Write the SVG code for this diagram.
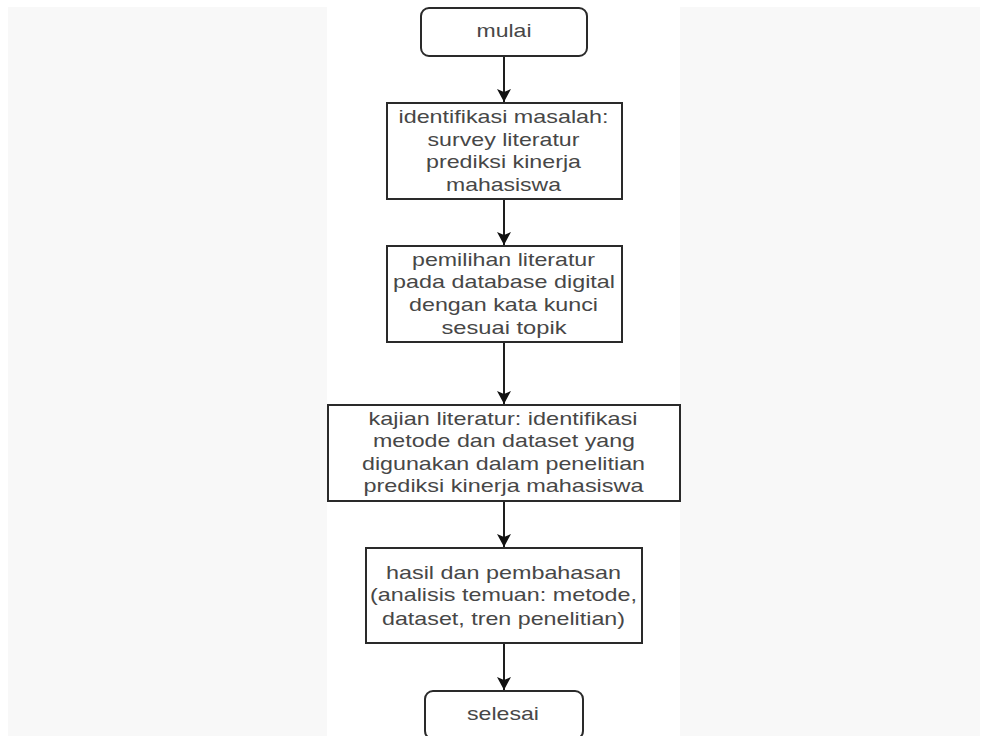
<svg xmlns="http://www.w3.org/2000/svg" width="987" height="736" viewBox="0 0 987 736">
<style>
.box{fill:#ffffff;stroke:#2a2a2a;stroke-width:2}
.t{font-family:"Liberation Sans",Arial,sans-serif;font-size:19px;fill:#474747;text-anchor:middle}
.edge{stroke:#1e1e1e;stroke-width:2;fill:none}
</style>
<defs>
<marker id="arr" markerUnits="userSpaceOnUse" markerWidth="14" markerHeight="14" viewBox="0 0 14 14" refX="13" refY="7" orient="auto">
<path d="M0,0 L13,7 L0,14 L3,7 Z" fill="#111111"/>
</marker>
</defs>
<rect x="0" y="0" width="987" height="736" fill="#ffffff"/>
<rect x="8" y="7" width="319" height="729" fill="#f8f8f8"/>
<rect x="680" y="7" width="300" height="729" fill="#f8f8f8"/>

<g id="connectors">
<line class="edge" x1="504" y1="56" x2="504" y2="102" marker-end="url(#arr)"/>
<line class="edge" x1="504" y1="199" x2="504" y2="245" marker-end="url(#arr)"/>
<line class="edge" x1="504" y1="342" x2="504" y2="404" marker-end="url(#arr)"/>
<line class="edge" x1="504" y1="501" x2="504" y2="547" marker-end="url(#arr)"/>
<line class="edge" x1="504" y1="643" x2="504" y2="690" marker-end="url(#arr)"/>
</g>

<g id="mulai">
<rect class="box" x="421" y="8" width="166" height="48" rx="8"/>
<text class="t" x="504" y="37" textLength="55" lengthAdjust="spacingAndGlyphs">mulai</text>
</g>

<g id="identifikasi">
<rect class="box" x="387" y="103" width="235" height="96"/>
<text class="t" x="503.5" y="123" textLength="210" lengthAdjust="spacingAndGlyphs">identifikasi masalah:</text>
<text class="t" x="503.5" y="146" textLength="152" lengthAdjust="spacingAndGlyphs">survey literatur</text>
<text class="t" x="503.5" y="168" textLength="155" lengthAdjust="spacingAndGlyphs">prediksi kinerja</text>
<text class="t" x="503.5" y="191" textLength="115" lengthAdjust="spacingAndGlyphs">mahasiswa</text>
</g>

<g id="pemilihan">
<rect class="box" x="387" y="246" width="235" height="96"/>
<text class="t" x="503.5" y="266" textLength="183" lengthAdjust="spacingAndGlyphs">pemilihan literatur</text>
<text class="t" x="504" y="288" textLength="222" lengthAdjust="spacingAndGlyphs">pada database digital</text>
<text class="t" x="503.5" y="311" textLength="189" lengthAdjust="spacingAndGlyphs">dengan kata kunci</text>
<text class="t" x="504" y="334" textLength="125" lengthAdjust="spacingAndGlyphs">sesuai topik</text>
</g>

<g id="kajian">
<rect class="box" x="328" y="405" width="352" height="96"/>
<text class="t" x="503" y="425" textLength="269" lengthAdjust="spacingAndGlyphs">kajian literatur: identifikasi</text>
<text class="t" x="504" y="447" textLength="262" lengthAdjust="spacingAndGlyphs">metode dan dataset yang</text>
<text class="t" x="503.5" y="470" textLength="283" lengthAdjust="spacingAndGlyphs">digunakan dalam penelitian</text>
<text class="t" x="503.5" y="492" textLength="280" lengthAdjust="spacingAndGlyphs">prediksi kinerja mahasiswa</text>
</g>

<g id="hasil">
<rect class="box" x="366" y="548" width="276" height="95"/>
<text class="t" x="503.5" y="579" textLength="235" lengthAdjust="spacingAndGlyphs">hasil dan pembahasan</text>
<text class="t" x="503.5" y="601" textLength="267" lengthAdjust="spacingAndGlyphs">(analisis temuan: metode,</text>
<text class="t" x="503.5" y="625" textLength="243" lengthAdjust="spacingAndGlyphs">dataset, tren penelitian)</text>
</g>

<g id="selesai">
<rect class="box" x="425" y="691" width="158" height="48" rx="8"/>
<text class="t" x="503" y="720" textLength="72" lengthAdjust="spacingAndGlyphs">selesai</text>
</g>
</svg>
